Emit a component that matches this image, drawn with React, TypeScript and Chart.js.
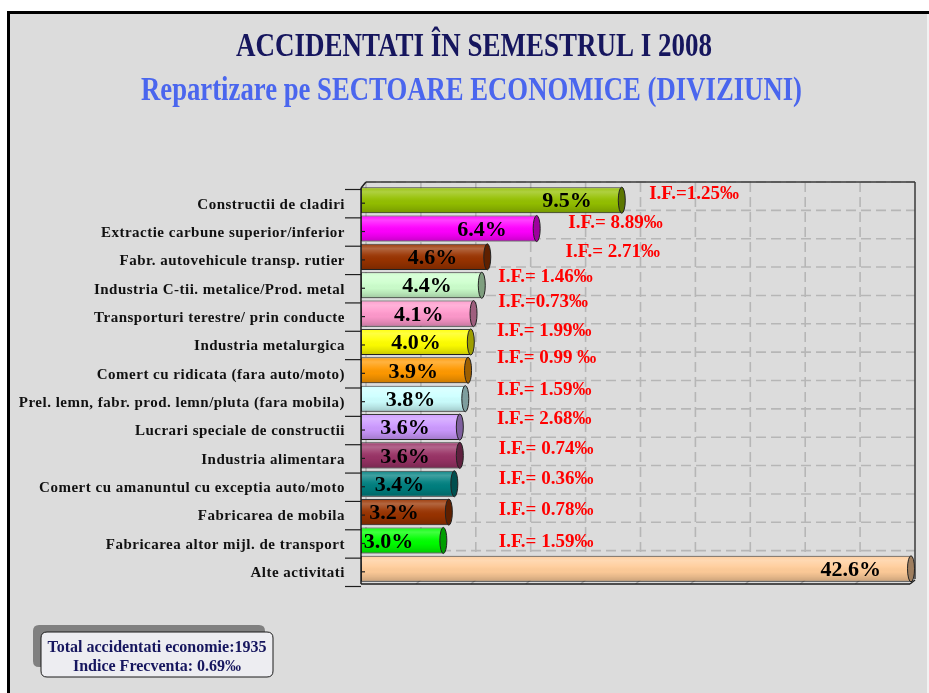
import React, { useEffect, useRef } from 'react';
import { Chart, registerables } from 'chart.js';

Chart.register(...registerables);

// ---------- data ----------
const titleText = 'ACCIDENTATI ÎN SEMESTRUL I 2008';
const subtitleText = 'Repartizare pe SECTOARE ECONOMICE (DIVIZIUNI)';

const categories = [
  'Constructii de cladiri',
  'Extractie carbune superior/inferior',
  'Fabr. autovehicule transp. rutier',
  'Industria C-tii. metalice/Prod. metal',
  'Transporturi terestre/ prin conducte',
  'Industria metalurgica',
  'Comert cu ridicata (fara auto/moto)',
  'Prel. lemn, fabr. prod. lemn/pluta (fara mobila)',
  'Lucrari speciale de constructii',
  'Industria alimentara ',
  'Comert cu amanuntul cu exceptia auto/moto',
  'Fabricarea de mobila',
  'Fabricarea altor mijl. de transport',
  'Alte activitati',
];

const shares = [9.5, 6.4, 4.6, 4.4, 4.1, 4.0, 3.9, 3.8, 3.6, 3.6, 3.4, 3.2, 3.0, 42.6];

const frequencyLabels = [
  'I.F.=1.25‰',
  'I.F.= 8.89‰',
  'I.F.= 2.71‰',
  'I.F.= 1.46‰',
  'I.F.=0.73‰',
  'I.F.= 1.99‰',
  'I.F.= 0.99 ‰',
  'I.F.= 1.59‰',
  'I.F.= 2.68‰',
  'I.F.= 0.74‰',
  'I.F.= 0.36‰',
  'I.F.= 0.78‰',
  'I.F.= 1.59‰',
];

const axisMax = 20;
const axisStep = 2;

const summaryLines = ['Total accidentati economie:1935', 'Indice Frecventa: 0.69‰'];

// ---------- styles / layout ----------
const barColors = [
  '#94c000', '#ff00ff', '#993300', '#ccffcc', '#ff99cc', '#ffff00', '#ff9900',
  '#ccffff', '#cc99ff', '#993366', '#008080', '#993300', '#00ff00', '#ffcc99',
];
// where each I.F. note starts (in axis units) and its vertical nudge (px)
const noteAt = [10.5, 7.55, 7.45, 5.0, 5.0, 4.95, 4.95, 4.95, 4.95, 5.02, 5.02, 5.02, 5.02];
const noteDy = [-6, -5, -5, -8, -11.5, -11, -12, -8.5, -8, -6.5, -5, -2, 1.5];

const SERIF = '"Liberation Serif", "Times New Roman", serif';
const W = 929;
const H = 693;

function shade(hex: string, f: number) {
  const n = parseInt(hex.slice(1), 16);
  const r = Math.round(((n >> 16) & 255) * f);
  const g = Math.round(((n >> 8) & 255) * f);
  const b = Math.round((n & 255) * f);
  return `rgb(${r},${g},${b})`;
}

function fittedText(ctx: CanvasRenderingContext2D, text: string, cx: number, cy: number, width: number, font: string, color: string) {
  ctx.save();
  ctx.font = font;
  ctx.fillStyle = color;
  ctx.textAlign = 'center';
  ctx.textBaseline = 'middle';
  const m = ctx.measureText(text).width;
  ctx.translate(cx, cy);
  ctx.scale(width / m, 1);
  ctx.fillText(text, 0, 0);
  ctx.restore();
}

function line(ctx: CanvasRenderingContext2D, x1: number, y1: number, x2: number, y2: number) {
  ctx.beginPath();
  ctx.moveTo(x1, y1);
  ctx.lineTo(x2, y2);
  ctx.stroke();
}

function roundRect(ctx: CanvasRenderingContext2D, x: number, y: number, w: number, h: number, r: number) {
  ctx.beginPath();
  ctx.moveTo(x + r, y);
  ctx.lineTo(x + w - r, y);
  ctx.quadraticCurveTo(x + w, y, x + w, y + r);
  ctx.lineTo(x + w, y + h - r);
  ctx.quadraticCurveTo(x + w, y + h, x + w - r, y + h);
  ctx.lineTo(x + r, y + h);
  ctx.quadraticCurveTo(x, y + h, x, y + h - r);
  ctx.lineTo(x, y + r);
  ctx.quadraticCurveTo(x, y, x + r, y);
  ctx.closePath();
}

const DX = 5;
const DY = -4;

const scenePlugin = {
  id: 'scene',
  beforeDraw(chart: any) {
    const ctx: CanvasRenderingContext2D = chart.ctx;
    const { left, right, top, bottom } = chart.chartArea;
    const xs = chart.scales.x;
    const ys = chart.scales.y;
    ctx.save();
    // page + frame
    ctx.fillStyle = '#ffffff';
    ctx.fillRect(0, 0, W, H);
    ctx.fillStyle = '#dcdcdc';
    ctx.fillRect(9, 13, W - 9, H - 13);
    ctx.fillStyle = '#000000';
    ctx.fillRect(7, 11, W - 7, 3);
    ctx.fillRect(7, 11, 3, H - 11);
    ctx.fillStyle = '#f2f2f2';
    ctx.fillRect(W - 2, 14, 2, H - 14);

    // titles
    fittedText(ctx, titleText, 474, 47, 476, `bold 33px ${SERIF}`, '#16165e');
    fittedText(ctx, subtitleText, 471.5, 91, 661, `bold 33px ${SERIF}`, '#4a66ee');

    // back wall grid (dashed)
    ctx.strokeStyle = '#b6b6b6';
    ctx.lineWidth = 1.6;
    ctx.setLineDash([10, 5]);
    for (let v = 0; v < axisMax; v += axisStep) {
      const px = xs.getPixelForValue(v) + DX;
      line(ctx, px, top + DY, px, bottom + DY);
    }
    const half = (bottom - top) / categories.length / 2;
    for (let i = 0; i < categories.length; i++) {
      const py = ys.getPixelForValue(i) - half + DY;
      line(ctx, left + DX, py, right + DX, py);
    }
    ctx.setLineDash([]);
    // floor tick marks
    ctx.strokeStyle = '#a8a8a8';
    ctx.lineWidth = 1.5;
    for (let v = axisStep; v < axisMax; v += axisStep) {
      const px = xs.getPixelForValue(v);
      line(ctx, px, bottom + 1, px + DX, bottom + 1 + DY);
    }
    // wall outline
    ctx.strokeStyle = '#3a3a3a';
    ctx.lineWidth = 1.5;
    line(ctx, left + DX, top + DY, right + DX, top + DY);
    line(ctx, right + DX, top + DY, right + DX, bottom + DY);
    ctx.restore();
  },
  afterDatasetsDraw(chart: any) {
    const ctx: CanvasRenderingContext2D = chart.ctx;
    const { right } = chart.chartArea;
    const meta = chart.getDatasetMeta(0);
    ctx.save();
    meta.data.forEach((el: any, i: number) => {
      const p = el.getProps(['x', 'y', 'base', 'height'], true);
      const end = Math.min(p.x, right + 1);
      const h = p.height;
      const t = p.y - h / 2;
      ctx.save();
      ctx.beginPath();
      ctx.rect(p.base, t, end - p.base, h);
      ctx.clip();
      const g = ctx.createLinearGradient(0, t, 0, t + h);
      g.addColorStop(0, 'rgba(255,255,255,0.05)');
      g.addColorStop(0.18, 'rgba(255,255,255,0.25)');
      g.addColorStop(0.42, 'rgba(255,255,255,0.06)');
      g.addColorStop(0.62, 'rgba(0,0,0,0.02)');
      g.addColorStop(0.8, 'rgba(0,0,0,0.1)');
      g.addColorStop(1, 'rgba(0,0,0,0.22)');
      ctx.fillStyle = g;
      ctx.fillRect(p.base, t, end - p.base, h);
      ctx.restore();
      // end cap
      ctx.beginPath();
      ctx.ellipse(end, p.y, 3.5, h / 2, 0, 0, Math.PI * 2);
      ctx.fillStyle = shade(barColors[i], 0.62);
      ctx.fill();
      ctx.strokeStyle = '#222';
      ctx.lineWidth = 1;
      ctx.stroke();
    });
    ctx.restore();
  },
  afterDraw(chart: any) {
    const ctx: CanvasRenderingContext2D = chart.ctx;
    const { left, right, top, bottom } = chart.chartArea;
    const xs = chart.scales.x;
    const ys = chart.scales.y;
    const meta = chart.getDatasetMeta(0);
    const half = (bottom - top) / categories.length / 2;
    ctx.save();
    // front axis + floor
    ctx.strokeStyle = '#1e1e1e';
    ctx.lineWidth = 1.5;
    line(ctx, left, top + 2, left, bottom + 1);
    line(ctx, left, top + 2, left + DX, top + DY);
    line(ctx, left, bottom + 1, right, bottom + 1);
    line(ctx, right, bottom + 1, right + DX, bottom + 1 + DY);
    // ticks
    ctx.lineWidth = 1.2;
    for (let i = 0; i <= categories.length; i++) {
      const py = top + i * half * 2 + 3.5;
      line(ctx, left - 16, py, left, py);
    }
    for (let i = 0; i < categories.length; i++) {
      const py = ys.getPixelForValue(i) + 3;
      line(ctx, left, py, left + 4, py);
    }
    // category labels
    ctx.fillStyle = '#111111';
    ctx.font = `bold 15px ${SERIF}`;
    (ctx as any).letterSpacing = '0.5px';
    ctx.textAlign = 'right';
    ctx.textBaseline = 'middle';
    categories.forEach((c, i) => {
      ctx.fillText(c.trimEnd(), left - 16, ys.getPixelForValue(i) + 4.5);
    });
    (ctx as any).letterSpacing = '0px';

    // value labels
    ctx.font = `bold 22px ${SERIF}`;
    ctx.fillStyle = '#000000';
    ctx.textAlign = 'right';
    meta.data.forEach((el: any, i: number) => {
      const p = el.getProps(['x', 'y'], true);
      const end = Math.min(p.x, right + 1);
      ctx.fillText(shares[i].toFixed(1) + '%', end - 30, p.y + 1.5);
    });

    // I.F. notes
    ctx.font = `bold 19px ${SERIF}`;
    ctx.fillStyle = '#ff0000';
    ctx.textAlign = 'left';
    frequencyLabels.forEach((t, i) => {
      ctx.fillText(t, xs.getPixelForValue(noteAt[i]), ys.getPixelForValue(i) + noteDy[i]);
    });

    // summary box
    ctx.fillStyle = '#808080';
    roundRect(ctx, 33, 625, 232, 42, 6);
    ctx.fill();
    ctx.fillStyle = '#ededf1';
    roundRect(ctx, 41, 632, 232, 45, 6);
    ctx.fill();
    ctx.strokeStyle = '#1a1a1a';
    ctx.lineWidth = 1;
    ctx.stroke();
    ctx.fillStyle = '#16165e';
    ctx.font = `bold 16px ${SERIF}`;
    ctx.textAlign = 'center';
    ctx.fillText(summaryLines[0], 157, 648);
    ctx.fillText(summaryLines[1], 157, 667);
    ctx.restore();
  },
};

export default function App() {
  const ref = useRef<HTMLCanvasElement>(null);
  useEffect(() => {
    if (!ref.current) return;
    const chart = new Chart(ref.current, {
      type: 'bar',
      data: {
        labels: categories,
        datasets: [
          {
            data: shares,
            backgroundColor: barColors,
            borderColor: '#2a2a2a',
            borderWidth: 1,
            borderSkipped: false,
            categoryPercentage: 1,
            barPercentage: 0.92,
          },
        ],
      },
      options: {
        indexAxis: 'y',
        responsive: false,
        devicePixelRatio: 1,
        animation: false,
        layout: { padding: { left: 361, right: 19, top: 186, bottom: 110 } },
        plugins: { legend: { display: false }, tooltip: { enabled: false }, title: { display: false } },
        scales: {
          x: { display: false, min: 0, max: axisMax },
          y: { display: false },
        },
      },
      plugins: [scenePlugin],
    });
    return () => chart.destroy();
  }, []);
  return (
    <div style={{ position: 'absolute', left: 0, top: 0, width: W, height: H }}>
      <canvas ref={ref} width={W} height={H} style={{ display: 'block', width: W, height: H }} />
    </div>
  );
}
